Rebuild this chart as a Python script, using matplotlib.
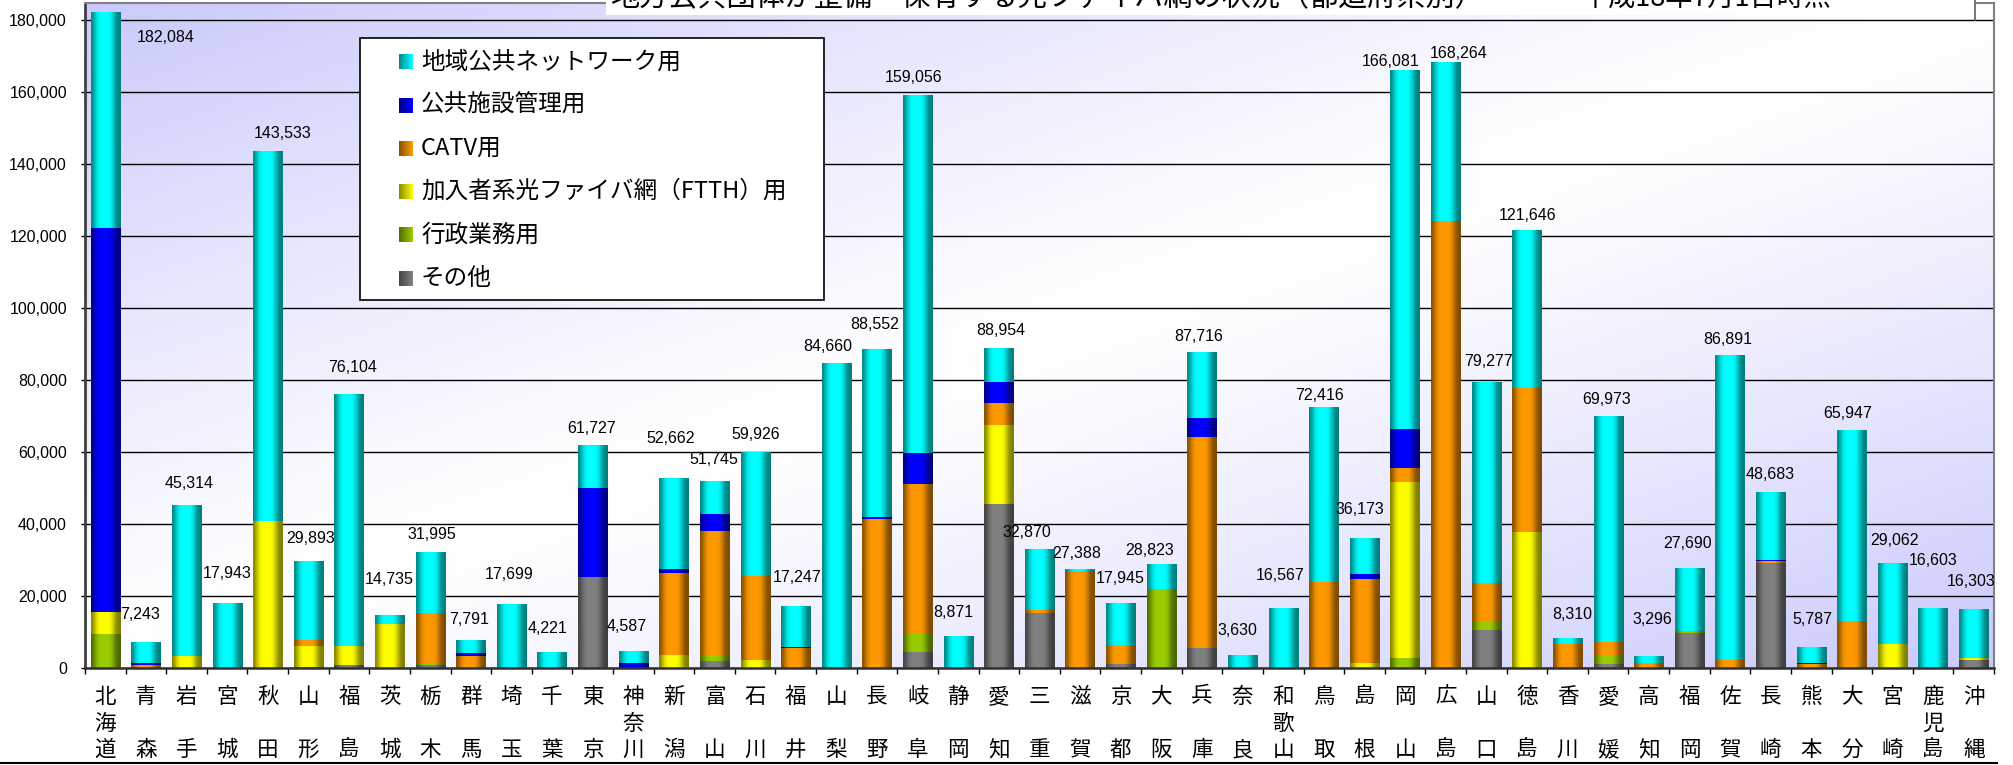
"""光ファイバ網の整備状況（都道府県別）の積み上げ棒グラフ."""
import numpy as np
import matplotlib
matplotlib.use("Agg")
import matplotlib.pyplot as plt
from matplotlib.colors import to_rgb
from matplotlib.lines import Line2D
from matplotlib.patches import Rectangle

plt.rcParams["font.family"] = ["Noto Sans CJK JP", "DejaVu Sans"]
NUM_FONT = ["Liberation Sans", "DejaVu Sans"]

prefectures = [
    "北海道", "青森", "岩手", "宮城", "秋田", "山形", "福島", "茨城", "栃木", "群馬",
    "埼玉", "千葉", "東京", "神奈川", "新潟", "富山", "石川", "福井", "山梨", "長野",
    "岐阜", "静岡", "愛知", "三重", "滋賀", "京都", "大阪", "兵庫", "奈良", "和歌山",
    "鳥取", "島根", "岡山", "広島", "山口", "徳島", "香川", "愛媛", "高知", "福岡",
    "佐賀", "長崎", "熊本", "大分", "宮崎", "鹿児島", "沖縄",
]

# 用途別の延長（積み上げ順：下から）
sonota = [
    0, 0, 0, 0, 0, 300, 1000, 0, 800, 0,
    0, 0, 25400, 0, 0, 2000, 0, 0, 0, 0,
    4500, 0, 45650, 15400, 0, 1200, 0, 5650, 0, 0,
    0, 0, 0, 0, 10650, 0, 0, 1200, 0, 9800,
    0, 29250, 0, 0, 0, 0, 2300,
]
gyosei = [
    9500, 0, 0, 0, 0, 0, 0, 0, 400, 0,
    0, 0, 0, 0, 0, 1600, 0, 0, 0, 500,
    5200, 0, 0, 0, 0, 0, 21950, 0, 0, 0,
    0, 0, 2900, 0, 2400, 0, 0, 2400, 0, 450,
    0, 0, 0, 0, 0, 0, 0,
]
ftth = [
    6100, 0, 3500, 0, 40900, 6000, 5300, 12400, 0, 0,
    0, 0, 0, 0, 3600, 0, 2300, 0, 0, 0,
    0, 0, 21950, 0, 0, 0, 0, 0, 0, 300,
    0, 1500, 48850, 0, 0, 37900, 0, 0, 0, 0,
    0, 0, 0, 0, 6750, 0, 550,
]
catv = [
    0, 900, 0, 0, 0, 1660, 0, 0, 14100, 3500,
    0, 0, 0, 0, 22900, 34550, 23350, 5700, 300, 41000,
    41500, 0, 6100, 800, 27000, 5200, 0, 58650, 500, 0,
    24000, 23300, 4000, 124200, 10550, 40050, 6750, 3700, 1400, 0,
    2300, 450, 1300, 13050, 0, 0, 0,
]
shisetsu = [
    106700, 580, 0, 0, 0, 0, 0, 0, 0, 750,
    0, 0, 24600, 1450, 1100, 4700, 0, 200, 0, 500,
    8600, 0, 5850, 0, 0, 0, 0, 5300, 0, 0,
    0, 1400, 10750, 0, 0, 0, 0, 0, 0, 0,
    0, 350, 250, 0, 0, 0, 0,
]
chiiki = [
    59784, 5763, 41814, 17943, 102633, 21933, 69804, 2335, 16695, 3541,
    17699, 4221, 11727, 3137, 25062, 8895, 34276, 11347, 84360, 46552,
    99256, 8871, 9404, 16670, 388, 11545, 6873, 18116, 3130, 16267,
    48416, 9973, 99581, 44064, 55677, 43696, 1560, 62673, 1896, 17440,
    84591, 18633, 4237, 52897, 22312, 16603, 13453,
]

legend_names = [
    "地域公共ネットワーク用", "公共施設管理用", "CATV用",
    "加入者系光ファイバ網（FTTH）用", "行政業務用", "その他",
]
legend_colors = ["#00FFFF", "#0000FF", "#FF9900", "#FFFF00", "#99CC00", "#808080"]

stack = [
    (sonota, "#808080"),
    (gyosei, "#99CC00"),
    (ftth, "#FFFF00"),
    (catv, "#FF9900"),
    (shisetsu, "#0000FF"),
    (chiiki, "#00FFFF"),
]

# 合計値ラベルの位置調整（ピクセル：横ずれ、棒の上端からの高さ）
label_dx = [
    60, -6, 3, 0, 15, 2, 4, 0, 2, -2,
    -2, -5, -1, -7, -3, -1, 1, 1, -9, -2,
    -4, -5, 2, -13, -3, -1, -12, -3, -5, -3,
    -4, -5, -14, 13, 2, 1, 5, -2, 4, -2,
    -2, 0, 1, -4, 2, 0, -3,
]
label_rise = [
    -25, 28, 22, 30, 18, 22, 27, 36, 19, 21,
    30, 25, 18, 25, 40, 23, 18, 29, 17, 25,
    18, 24, 18, 17, 16, 25, 14, 16, 25, 33,
    12, 29, 9, 9, 21, 15, 24, 17, 37, 25,
    16, 19, 28, 17, 23, 48, 28,
]

W, H = 2013, 765
YMAX = 184800
PT = 0.72  # 1 px (dpi 100) in points

# 円柱風の陰影（左右の端を暗く）
t = np.linspace(0, 1, 64)
profile = 0.5 + 0.5 * np.exp(-((t - 0.45) / 0.35) ** 4)


def shaded_strip(color, prof):
    rgb = np.array(to_rgb(color))
    return (prof[:, None] * rgb)[None, :, :]


fig = plt.figure(figsize=(W / 100, H / 100), dpi=100)
ax = fig.add_axes([85 / W, 1 - 668.33 / H, (1994 - 85) / W, (668.33 - 3) / H])

# 背景のグラデーション（左上・右下がラベンダー）
u = np.linspace(0, 1, 400)
v = np.linspace(1, 0, 200)
U, V = np.meshgrid(u, v)
s = (U + (1 - V)) / 2
w = np.abs(2 * s - 1) ** 1.2
lav = np.array([0.79, 0.79, 0.99])
bg = 1 - w[..., None] * (1 - lav)
ax.imshow(bg, extent=(0, 1, 0, 1), transform=ax.transAxes, aspect="auto",
          zorder=0, interpolation="bilinear")

x = np.arange(len(prefectures))
bottom = np.zeros(len(x))
for values, color in stack:
    bars = ax.bar(x, values, width=0.72, bottom=bottom, color=color,
                  linewidth=0, zorder=2)
    strip = shaded_strip(color, profile)
    for p in bars:
        if p.get_height() <= 0:
            p.set_visible(False)
            continue
        x0, y0 = p.get_x(), p.get_y()
        ax.imshow(strip, extent=(x0, x0 + p.get_width(), y0, y0 + p.get_height()),
                  aspect="auto", interpolation="bilinear", zorder=2)
        p.set_visible(False)
    bottom += np.array(values)

# 合計値ラベル
for i, total in enumerate(bottom):
    ax.annotate(f"{total:,.0f}", (i, total),
                xytext=(label_dx[i] * PT, label_rise[i] * PT), textcoords="offset points",
                ha="center", va="center", fontsize=11.5, family=NUM_FONT, zorder=5)

ax.set_xlim(-0.5, len(x) - 0.5)
ax.set_ylim(0, YMAX)

yticks = np.arange(0, 180001, 20000)
ax.set_yticks(yticks)
ax.set_yticklabels([f"{v:,}" for v in yticks], family=NUM_FONT, fontsize=11.5)
ax.tick_params(axis="y", length=3, width=1, pad=10)
ax.yaxis.grid(True, color="black", lw=1.0)
ax.set_axisbelow(True)

ax.set_xticks([])
ax.set_xticks(np.arange(-0.5, len(x), 1), minor=True)
ax.tick_params(axis="x", which="minor", length=4, width=1, direction="out")

for side in ("top", "right"):
    ax.spines[side].set_color("#808080")
    ax.spines[side].set_linewidth(1.5)
ax.spines["left"].set_color("#404040")
ax.spines["left"].set_linewidth(2)
ax.spines["bottom"].set_color("#303030")
ax.spines["bottom"].set_linewidth(1.8)

# 都道府県名（縦書き）
xax = ax.get_xaxis_transform()
row_offsets = [-20.4, -40.1, -58.8]
for i, name in enumerate(prefectures):
    rows = [0, 2] if len(name) == 2 else [0, 1, 2]
    for ch, r in zip(name, rows):
        ax.annotate(ch, (i, 0), xycoords=xax, xytext=(0, row_offsets[r]),
                    textcoords="offset points", ha="center", va="center",
                    fontsize=15.5, annotation_clip=False)

# 凡例
fig.add_artist(Rectangle((360 / W, 1 - 300 / H), 464 / W, 262 / H,
                         transform=fig.transFigure, facecolor="white",
                         edgecolor="black", lw=1.2, zorder=2))
mprof = 0.55 + 0.45 * np.linspace(0, 1, 14)
for k, (name, color) in enumerate(zip(legend_names, legend_colors)):
    yc = 61.7 + k * 43.3
    marker = np.repeat(shaded_strip(color, mprof), 15, axis=0)
    fig.figimage(marker, xo=399, yo=int(round(H - yc - 7.5)), zorder=3, origin="upper")
    fig.text(421 / W, 1 - yc / H, name, fontsize=17, ha="left", va="center", zorder=3)

# 表題（上端で切れている）
fig.add_artist(Rectangle((606 / W, 1 - 15 / H), (1975 - 606) / W, 15 / H,
                         transform=fig.transFigure, facecolor="white",
                         edgecolor="none", zorder=2))
fig.add_artist(Line2D([1975 / W] * 2, [1, 1 - 20 / H], transform=fig.transFigure,
                      color="#606060", lw=1.2, zorder=3))
fig.text(610 / W, 1 + 2 / H, "地方公共団体が整備・保有する光ファイバ網の状況（都道府県別）",
         fontsize=21, ha="left", va="center", zorder=3)
fig.text(1582 / W, 1 + 2 / H, "平成18年7月1日時点",
         fontsize=19.5, ha="left", va="center", zorder=3)

fig.add_artist(Line2D([0, 1997 / W], [1 - 763 / H] * 2, transform=fig.transFigure,
                      color="black", lw=1.5))

fig.savefig("out.png", dpi=100)
